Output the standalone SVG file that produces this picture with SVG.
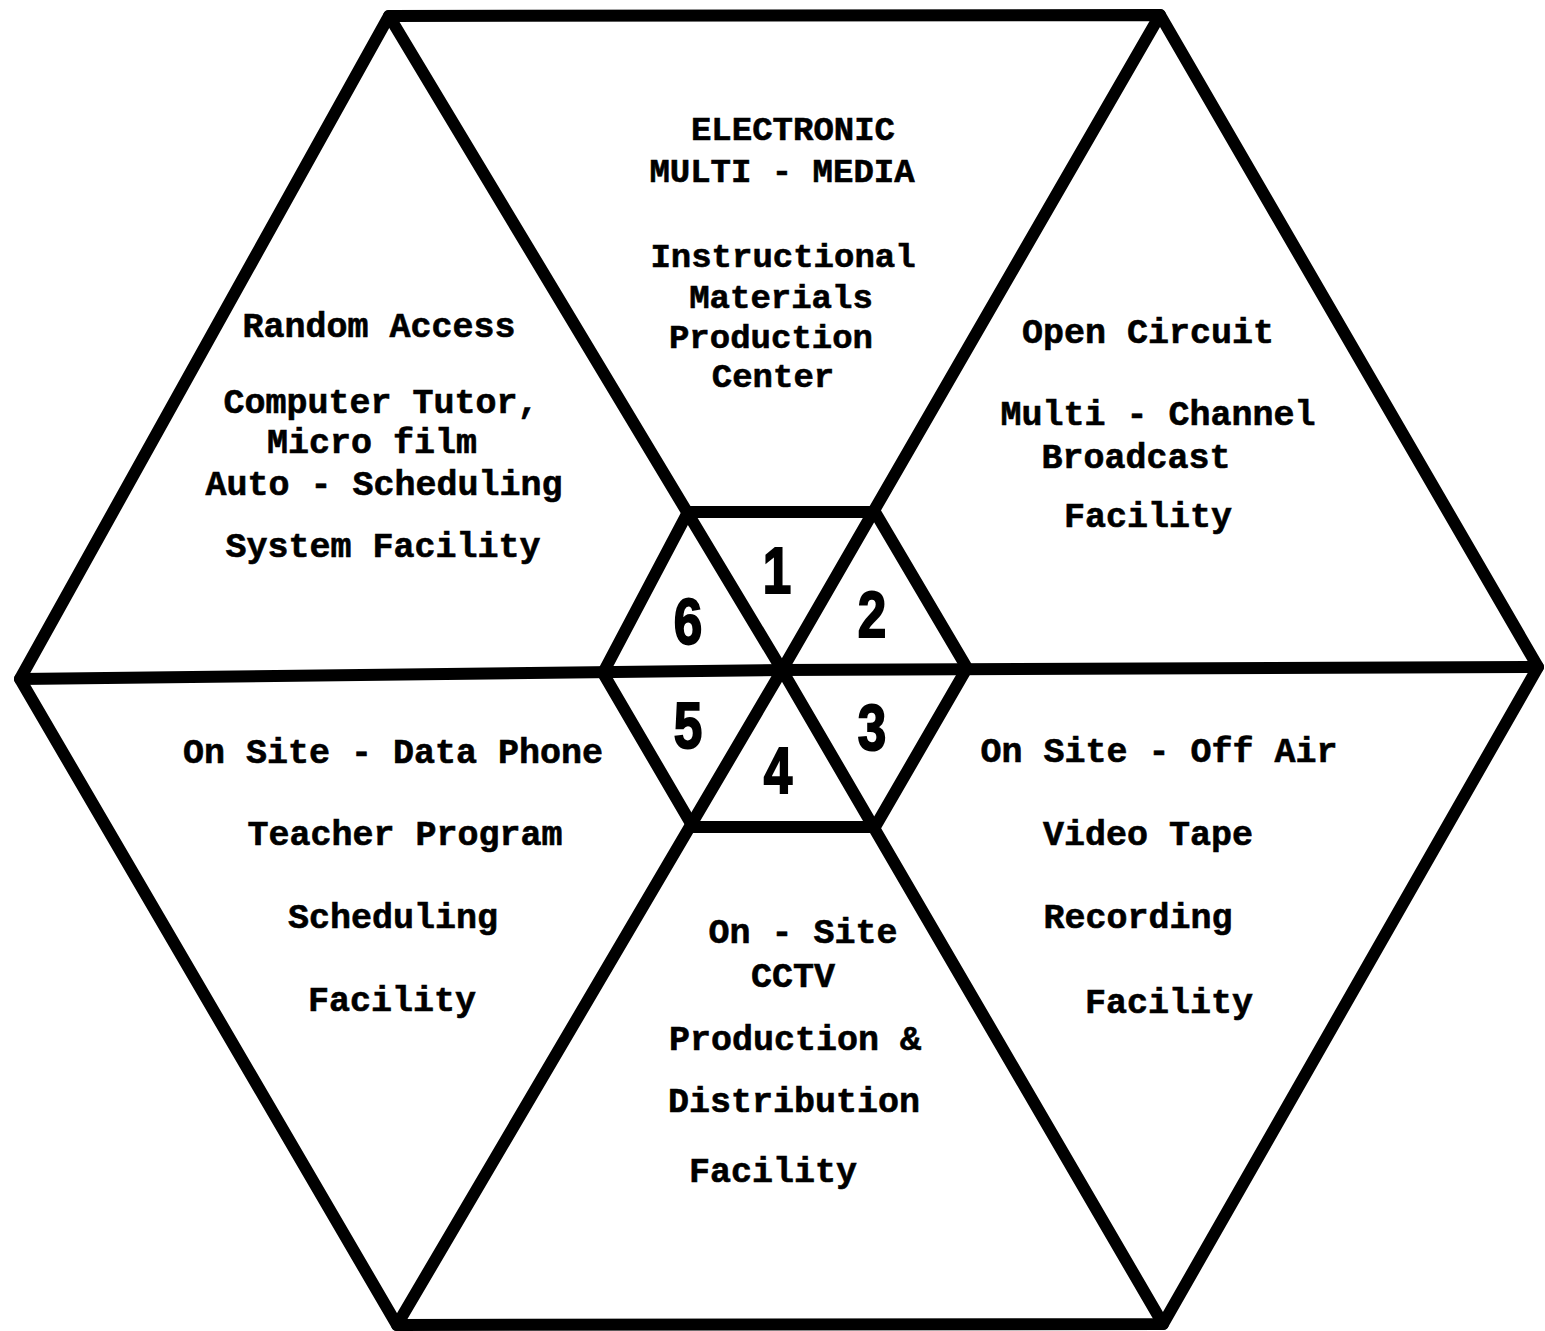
<svg xmlns="http://www.w3.org/2000/svg" width="1545" height="1331" viewBox="0 0 1545 1331">
<style>
.ln{fill:none;stroke:#000;stroke-width:12;stroke-linejoin:round;stroke-linecap:round}
.t{font-family:"Liberation Mono","DejaVu Sans Mono",monospace;font-weight:bold;font-size:35px;fill:#000;stroke:#000;stroke-width:0.6;text-anchor:middle}
.s{font-size:34px}
.n{font-family:"Liberation Sans Narrow","Liberation Sans",Arial,sans-serif;font-weight:bold;font-size:64px;fill:#000;stroke:#000;stroke-width:2;text-anchor:middle}
</style>
<rect width="1545" height="1331" fill="#fff"/>
<g id="connectors">
<polygon class="ln" points="389,16 1160,15 1538,667 1163,1324 397,1325 20,679"/>
<polyline class="ln" points="389,16 782,670 1163,1324"/>
<polyline class="ln" points="1160,15 782,670 397,1325"/>
<polyline class="ln" points="20,679 782,670 1538,667"/>
<polygon class="ln" points="688,512 875,512 967,668 875,827 693,827 603,673"/>
</g>
<g id="sector-1">
<text class="t s" x="793" y="140">ELECTRONIC</text>
<text class="t s" x="782" y="182">MULTI - MEDIA</text>
<text class="t s" x="783" y="267">Instructional</text>
<text class="t s" x="781" y="308">Materials</text>
<text class="t s" x="771" y="348">Production</text>
<text class="t s" x="773" y="387">Center</text>
<text class="n" transform="translate(777,593) scale(0.8,1)">1</text>
</g>
<g id="sector-2">
<text class="t" x="1148" y="343">Open Circuit</text>
<text class="t" x="1158" y="425">Multi - Channel</text>
<text class="t" x="1136" y="468">Broadcast</text>
<text class="t" x="1148" y="527">Facility</text>
<text class="n" transform="translate(872,637) scale(0.8,1)">2</text>
</g>
<g id="sector-3">
<text class="t" x="1159" y="762">On Site - Off Air</text>
<text class="t" x="1148" y="845">Video Tape</text>
<text class="t" x="1138" y="928">Recording</text>
<text class="t" x="1169" y="1013">Facility</text>
<text class="n" transform="translate(872,750) scale(0.8,1)">3</text>
</g>
<g id="sector-4">
<text class="t" x="803" y="943">On - Site</text>
<text class="t" x="793" y="987">CCTV</text>
<text class="t" x="795" y="1050">Production &amp;</text>
<text class="t" x="794" y="1112">Distribution</text>
<text class="t" x="773" y="1182">Facility</text>
<text class="n" transform="translate(778,793) scale(0.8,1)">4</text>
</g>
<g id="sector-5">
<text class="t" x="393" y="763">On Site - Data Phone</text>
<text class="t" x="405" y="845">Teacher Program</text>
<text class="t" x="393" y="928">Scheduling</text>
<text class="t" x="392" y="1011">Facility</text>
<text class="n" transform="translate(688,748) scale(0.8,1)">5</text>
</g>
<g id="sector-6">
<text class="t" x="379" y="337">Random Access</text>
<text class="t" x="381" y="413">Computer Tutor,</text>
<text class="t" x="372" y="453">Micro film</text>
<text class="t" x="384" y="495">Auto - Scheduling</text>
<text class="t" x="383" y="557">System Facility</text>
<text class="n" transform="translate(688,644) scale(0.8,1)">6</text>
</g>
</svg>
